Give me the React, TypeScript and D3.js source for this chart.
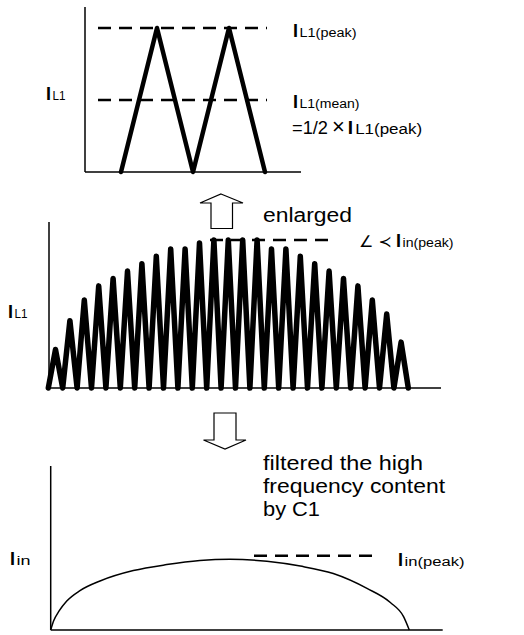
import React from 'react';
import * as d3 from 'd3';

// ---- Data ----
// Top panel: enlarged inductor current, quarter-period steps
const topSteps = [0, 1, 2, 3, 4];
const topValues = [0, 1, 0, 1, 0];
const topPeakLevel = 1;
const topMeanLevel = 0.5;

// Middle panel: peak of each switching triangle (fraction of Iin(peak))
const rectifiedPeaks = [
  0.26, 0.455, 0.595, 0.69, 0.74, 0.79, 0.84, 0.89, 0.94, 0.94, 0.98, 1.0, 1.0,
  1.0, 1.0, 0.94, 0.94, 0.89, 0.84, 0.79, 0.74, 0.69, 0.595, 0.5, 0.31,
];
const midPeakLevel = 1;

// Bottom panel: filtered input current (time in switching periods, value)
const filteredT = [0, 0.2, 0.6, 1.12, 2.04, 3.44, 5.76, 8.09, 10.4, 12.5, 15.07, 17.4, 19.7, 22.05, 23.68, 24.6, 25];
const filteredV = [0, 0.12, 0.26, 0.39, 0.53, 0.66, 0.8, 0.88, 0.935, 0.952, 0.925, 0.86, 0.76, 0.56, 0.37, 0.18, 0];
const inPeakLevel = 1;

const FONT = "'Liberation Sans', Arial, Helvetica, sans-serif";

function Label({ x, y, main, sub, mainSize = 18, subSize = 12.5, subWidth }: any) {
  return (
    <text x={x} y={y} fontFamily={FONT} fill="#000">
      <tspan fontSize={mainSize} fontWeight="bold">{main}</tspan>
      <tspan fontSize={subSize} dx={1.5} textLength={subWidth} lengthAdjust="spacingAndGlyphs">{sub}</tspan>
    </text>
  );
}

export default function App() {
  // ---- Top panel ----
  const tx = d3.scaleLinear().domain([0, 4]).range([121, 265]);
  const ty = d3.scaleLinear().domain([0, 1]).range([172, 28]);
  const topLine = d3
    .line<number>()
    .x((_, i) => tx(topSteps[i]))
    .y((d) => ty(d));

  // ---- Middle panel ----
  const mx = d3.scaleLinear().domain([0, rectifiedPeaks.length]).range([48.3, 408.3]);
  const my = d3.scaleLinear().domain([0, 1]).range([388, 240]);
  const midPts: [number, number][] = [[0, 0]];
  rectifiedPeaks.forEach((p, i) => {
    midPts.push([i + 0.5, p]);
    midPts.push([i + 1, 0]);
  });
  const midLine = d3
    .line<[number, number]>()
    .x((d) => mx(d[0]))
    .y((d) => my(d[1]));

  // ---- Bottom panel ----
  const bx = d3.scaleLinear().domain([0, 25]).range([50.7, 409.3]);
  const by = d3.scaleLinear().domain([0, 1]).range([630, 555.7]);
  const botLine = d3
    .line<number>()
    .x((_, i) => bx(filteredT[i]))
    .y((d) => by(d))
    .curve(d3.curveMonotoneX);

  const dash = '13,8';

  return (
    <svg
      width={524}
      height={635}
      style={{ position: 'absolute', left: 0, top: 0, display: 'block', background: '#fff' }}
    >
      {/* Top panel */}
      <line x1={85} y1={7} x2={85} y2={172} stroke="#000" strokeWidth={1.5} />
      <line x1={85} y1={172} x2={301} y2={172} stroke="#000" strokeWidth={1.5} />
      <line x1={98} x2={267} y1={ty(topPeakLevel)} y2={ty(topPeakLevel)} stroke="#000" strokeWidth={2.5} strokeDasharray={dash} />
      <line x1={98} x2={267} y1={ty(topMeanLevel)} y2={ty(topMeanLevel)} stroke="#000" strokeWidth={2.5} strokeDasharray={dash} />
      <path d={topLine(topValues) || ''} fill="none" stroke="#000" strokeWidth={4.5} strokeLinejoin="round" strokeLinecap="round" />
      <Label x={46} y={100} main="I" sub="L1" subWidth={13} />
      <Label x={293} y={37} main="I" sub="L1(peak)" subWidth={57} />
      <Label x={293} y={108} main="I" sub="L1(mean)" subWidth={60} />
      <text x={292} y={134} fontFamily={FONT} fill="#000">
        <tspan fontSize={19} textLength={36} lengthAdjust="spacingAndGlyphs">=1/2</tspan>
        <tspan fontSize={22} dx={4}>×</tspan>
        <tspan fontSize={19} dx={3} fontWeight="bold">I</tspan>
        <tspan fontSize={14} dx={2} textLength={67} lengthAdjust="spacingAndGlyphs">L1(peak)</tspan>
      </text>

      {/* Up arrow */}
      <path
        d="M221,194 L243,203 L232.5,203 L232.5,228.5 L211,228.5 L211,203 L200,203 Z"
        fill="#fff"
        stroke="#000"
        strokeWidth={1.2}
      />
      <text x={263} y={222} fontFamily={FONT} fontSize={20} textLength={89} lengthAdjust="spacingAndGlyphs">
        enlarged
      </text>

      {/* Middle panel */}
      <line x1={49} y1={222} x2={49} y2={388} stroke="#000" strokeWidth={1.5} />
      <line x1={49} y1={388} x2={441} y2={388} stroke="#000" strokeWidth={1.5} />
      <line x1={210} x2={333} y1={my(midPeakLevel)} y2={my(midPeakLevel)} stroke="#000" strokeWidth={2.5} strokeDasharray={dash} />
      <path d={midLine(midPts) || ''} fill="none" stroke="#000" strokeWidth={5.5} strokeLinejoin="round" strokeLinecap="round" />
      <Label x={8} y={318} main="I" sub="L1" subWidth={13} />
      <text x={359} y={247} fontFamily="'DejaVu Sans', sans-serif" fontSize={16} fill="#000">
        ∠ ≺
      </text>
      <Label x={396} y={247} main="I" sub="in(peak)" subWidth={51} />

      {/* Down arrow */}
      <path
        d="M214,413 L236,413 L236,440 L246,440 L225,449 L203.5,440 L214,440 Z"
        fill="#fff"
        stroke="#000"
        strokeWidth={1.2}
      />
      <text fontFamily={FONT} fontSize={20} fill="#000">
        <tspan x={263} y={470} textLength={160} lengthAdjust="spacingAndGlyphs">filtered the high</tspan>
        <tspan x={263} y={493} textLength={182} lengthAdjust="spacingAndGlyphs">frequency content</tspan>
        <tspan x={263} y={516} textLength={57} lengthAdjust="spacingAndGlyphs">by C1</tspan>
      </text>

      {/* Bottom panel */}
      <line x1={50.7} y1={466} x2={50.7} y2={630} stroke="#000" strokeWidth={1.5} />
      <line x1={50.7} y1={630} x2={442.7} y2={630} stroke="#000" strokeWidth={1.5} />
      <line x1={254} x2={378} y1={by(inPeakLevel)} y2={by(inPeakLevel)} stroke="#000" strokeWidth={2.5} strokeDasharray={dash} />
      <path d={botLine(filteredV) || ''} fill="none" stroke="#000" strokeWidth={1.5} />
      <Label x={10} y={565} main="I" sub="in" subWidth={14} />
      <Label x={398} y={566} main="I" sub="in(peak)" subWidth={60} />
    </svg>
  );
}
